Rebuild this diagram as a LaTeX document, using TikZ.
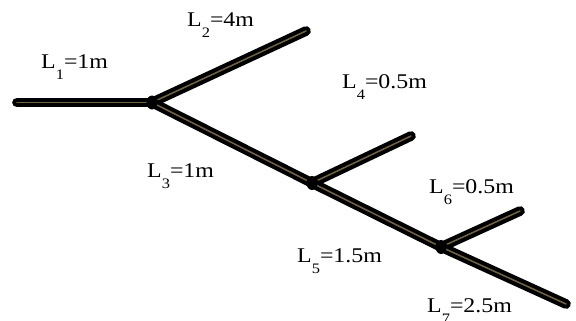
\documentclass[tikz,border=0pt]{standalone}
\usepackage{fontspec}
\setmainfont{Liberation Serif}
\newfontfamily\oznfont[FakeStretch=1.14]{Liberation Serif}
\usepackage{tikz}
\usetikzlibrary{shapes.geometric, positioning, calc}

\newcommand{\ind}[1]{\raisebox{-11bp}{\fontsize{14.5}{14.5}\selectfont #1}}

\begin{document}
\begin{tikzpicture}[
  x=1bp, y=-1bp,
  cijev/.style={line width=4.1bp, double={rgb,255:red,110;green,100;blue,68},
                double distance=1.5bp, line cap=round, draw=black},
  cvor/.style={ellipse, fill=black, inner sep=0pt, minimum width=11bp, minimum height=14bp},
  ozn/.style={font=\oznfont\fontsize{21}{24}\selectfont, inner sep=0pt, anchor=base west}
]
  \useasboundingbox (0,0) rectangle (576,320);

  % tocke cjevovoda
  \coordinate (p0) at (17,102.5);
  \coordinate (c1) at (152,102.5);
  \coordinate (p2) at (306,31);
  \coordinate (c2) at (312,183);
  \coordinate (p4) at (411,136);
  \coordinate (c3) at (441,247);
  \coordinate (p6) at (520,211);
  \coordinate (p7) at (566,304);

  \draw[cijev] (p0) -- (c1);
  \draw[cijev] (c1) -- (p2);
  \draw[cijev] (c1) -- (c2);
  \draw[cijev] (c2) -- (p4);
  \draw[cijev] (c2) -- (c3);
  \draw[cijev] (c3) -- (p6);
  \draw[cijev] (c3) -- (p7);

  \node[cvor] (k1) at (c1) {};
  \node[cvor] (k2) at (c2) {};
  \node[cvor] (k3) at (c3) {};

  % oznake duljina
  \node[ozn] (l1) at (41,68) {L\ind{1}=1m};
  \node[ozn] (l2) at (187,26) {L\ind{2}=4m};
  \node[ozn] (l3) at (147,177) {L\ind{3}=1m};
  \node[ozn] (l4) at (342,88) {L\ind{4}=0.5m};
  \node[ozn] (l5) at (297,262) {L\ind{5}=1.5m};
  \node[ozn] (l6) at (429,193) {L\ind{6}=0.5m};
  \node[ozn] (l7) at (427,312) {L\ind{7}=2.5m};
\end{tikzpicture}
\end{document}
